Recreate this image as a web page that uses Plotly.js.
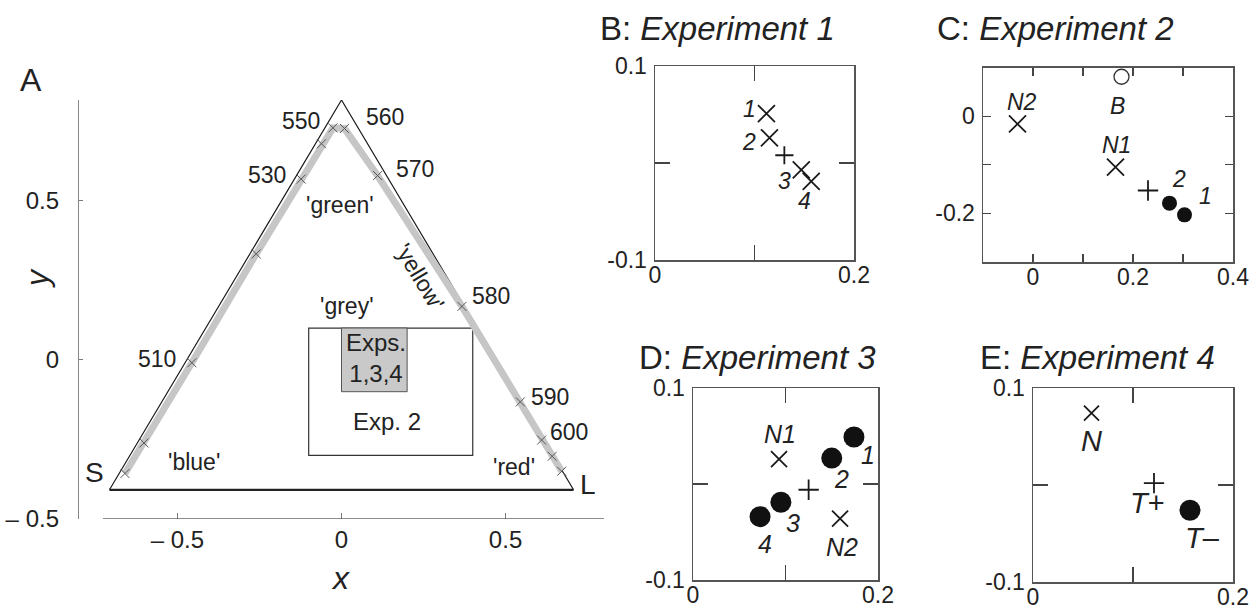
<!DOCTYPE html>
<html>
<head>
<meta charset="utf-8">
<script src="https://cdn.plot.ly/plotly-3.0.1.min.js"></script>
<style>html,body{margin:0;padding:0;background:#fff;}#chart{width:1256px;height:613px;}</style>
</head>
<body>
<div id="chart"></div>
<script>
// ---------- DATA ----------
// Panel A: Maxwell triangle (equilateral, side sqrt 2) vertices S, M, L, back to S
const triX = [-0.7071, 0, 0.7071, -0.7071];
const triY = [-0.4082, 0.8165, -0.4082, -0.4082];
const triLabels = ['S', 'M', 'L'];
// spectral locus samples (nm) and their chromaticity
const wavelengths = [490, 500, 510, 520, 530, 540, 550, 560, 570, 580, 590, 600, 610, 620];
const locusX = [-0.660, -0.602, -0.456, -0.260, -0.123, -0.061, -0.026, 0.009, 0.110, 0.367, 0.545, 0.610, 0.642, 0.671];
const locusY = [-0.357, -0.261, -0.009, 0.333, 0.568, 0.679, 0.729, 0.727, 0.579, 0.168, -0.132, -0.252, -0.303, -0.350];
const labelledWavelengths = [510, 530, 550, 560, 570, 580, 590, 600];
const colourNames = ["'green'", "'yellow'", "'grey'", "'blue'", "'red'"];
// regions explored in the experiments
const exp2RangeX = [-0.1, 0.4];
const exp2RangeY = [-0.3, 0.1];
const exp134RangeX = [0, 0.2];
const exp134RangeY = [-0.1, 0.1];
const axisATicks = [-0.5, 0, 0.5];
const axisATickText = ['\u2013 0.5', '0', '0.5'];

// Panel B: Experiment 1
const b_crossX = [0.112, 0.115, 0.147, 0.157];
const b_crossY = [0.051, 0.026, -0.007, -0.019];
const b_crossLabels = ['1', '2', '3', '4'];
const b_plusX = [0.130];
const b_plusY = [0.008];

// Panel C: Experiment 2
const c_openX = [0.177];
const c_openY = [0.081];
const c_openLabels = ['B'];
const c_crossX = [-0.031, 0.165];
const c_crossY = [-0.016, -0.105];
const c_crossLabels = ['N2', 'N1'];
const c_plusX = [0.230];
const c_plusY = [-0.153];
const c_filledX = [0.303, 0.273];
const c_filledY = [-0.203, -0.179];
const c_filledLabels = ['1', '2'];

// Panel D: Experiment 3
const d_filledX = [0.174, 0.150, 0.095, 0.0725];
const d_filledY = [0.049, 0.027, -0.019, -0.034];
const d_filledLabels = ['1', '2', '3', '4'];
const d_crossX = [0.093, 0.159];
const d_crossY = [0.026, -0.036];
const d_crossLabels = ['N1', 'N2'];
const d_plusX = [0.125];
const d_plusY = [-0.006];

// Panel E: Experiment 4
const e_crossX = [0.0585];
const e_crossY = [0.074];
const e_crossLabels = ['N'];
const e_plusX = [0.121];
const e_plusY = [0.002];
const e_plusLabels = ['T+'];
const e_filledX = [0.157];
const e_filledY = [-0.026];
const e_filledLabels = ['T\u2013'];

// ---------- LAYOUT HELPERS ----------
const W = 1256, H = 613;
const FONT = 'Liberation Sans, Arial, Helvetica, sans-serif';
const TXT = '#222';
function dx(a, b) { return [a / W, b / W]; }
function dy(top, bottom) { return [1 - bottom / H, 1 - top / H]; }

function boxAxis(domain, range, vals, texts, len, anchor, isX) {
  return {
    domain: domain, range: range, anchor: anchor,
    tickmode: 'array', tickvals: vals, ticktext: texts,
    ticks: 'inside', ticklen: len, tickwidth: 1.2, tickcolor: '#444',
    showline: true, mirror: 'allticks', linecolor: '#555', linewidth: 1.5,
    showgrid: false, zeroline: false, fixedrange: true,
    ticklabelstandoff: isX ? -6 : 2,
    tickfont: { family: FONT, size: 23, color: TXT }
  };
}

const traces = [];
// ---- Panel A ----
traces.push({ x: triX.slice(0, 3), y: triY.slice(0, 3), xaxis: 'x', yaxis: 'y', mode: 'lines',
  line: { color: '#1a1a1a', width: 1.2 }, hoverinfo: 'skip', showlegend: false });
traces.push({ x: [triX[2], triX[3]], y: [triY[2], triY[3]], xaxis: 'x', yaxis: 'y', mode: 'lines',
  line: { color: '#222', width: 2.2 }, hoverinfo: 'skip', showlegend: false });
traces.push({ x: locusX, y: locusY, xaxis: 'x', yaxis: 'y', mode: 'lines',
  line: { color: '#c6c6c6', width: 7 }, hoverinfo: 'skip', showlegend: false });
traces.push({ x: locusX, y: locusY, text: wavelengths.map(w => w + ' nm'), xaxis: 'x', yaxis: 'y', mode: 'markers',
  marker: { symbol: 'x-thin', size: 9, line: { color: '#555', width: 1 } }, hoverinfo: 'text', showlegend: false });

function markerTrace(xs, ys, ax, symbol, size) {
  const m = { symbol: symbol, size: size, color: '#111', line: { color: '#1a1a1a', width: 1.8 } };
  if (symbol === 'circle') { m.line = { color: '#111', width: 0 }; }
  if (symbol === 'circle-open') { m.color = '#333'; m.line = { color: '#333', width: 1.3 }; }
  return { x: xs, y: ys, xaxis: 'x' + ax, yaxis: 'y' + ax, mode: 'markers', marker: m,
    hoverinfo: 'x+y', showlegend: false, cliponaxis: false };
}
// ---- Panel B ----
traces.push(markerTrace(b_crossX, b_crossY, 2, 'x-thin', 17));
traces.push(markerTrace(b_plusX, b_plusY, 2, 'cross-thin', 13));
// ---- Panel C ----
traces.push(markerTrace(c_openX, c_openY, 3, 'circle-open', 15));
traces.push(markerTrace(c_crossX, c_crossY, 3, 'x-thin', 17));
traces.push(markerTrace(c_plusX, c_plusY, 3, 'cross-thin', 14.5));
traces.push(markerTrace(c_filledX, c_filledY, 3, 'circle', 15));
// ---- Panel D ----
traces.push(markerTrace(d_filledX, d_filledY, 4, 'circle', 21));
traces.push(markerTrace(d_crossX, d_crossY, 4, 'x-thin', 16));
traces.push(markerTrace(d_plusX, d_plusY, 4, 'cross-thin', 14.5));
// ---- Panel E ----
traces.push(markerTrace(e_crossX, e_crossY, 5, 'x-thin', 15));
traces.push(markerTrace(e_plusX, e_plusY, 5, 'cross-thin', 14.5));
traces.push(markerTrace(e_filledX, e_filledY, 5, 'circle', 21));

// ---------- ANNOTATIONS ----------
const ann = [];
function txt(x, y, text, size, ax, opts) {
  const a = Object.assign({ x: x, y: y, xref: 'x' + (ax || ''), yref: 'y' + (ax || ''), text: text, showarrow: false,
    font: { family: FONT, size: size, color: TXT }, xanchor: 'center', yanchor: 'middle' }, opts || {});
  ann.push(a);
}
function ptxt(px, py, text, size, opts) {
  ann.push(Object.assign({ x: px / W, y: 1 - py / H, xref: 'paper', yref: 'paper', text: text, showarrow: false,
    font: { family: FONT, size: size, color: TXT }, xanchor: 'center', yanchor: 'middle' }, opts || {}));
}
// Panel A labels
const wlLabelPos = { 510: [-0.561, 0.004], 530: [-0.226, 0.581], 550: [-0.123, 0.751], 560: [0.134, 0.762],
  570: [0.225, 0.601], 580: [0.455, 0.202], 590: [0.636, -0.116], 600: [0.694, -0.226] };
labelledWavelengths.forEach(w => txt(wlLabelPos[w][0], wlLabelPos[w][1], String(w), 23, ''));
const namePos = [[-0.006, 0.487, 0], [0.239, 0.259, 59], [0.017, 0.170, 0], [-0.45, -0.320, 0], [0.525, -0.337, 0]];
colourNames.forEach((n, i) => txt(namePos[i][0], namePos[i][1], n, 23, '', { textangle: namePos[i][2] }));
const vertexPos = [[-0.754, -0.353], [0, 0.872], [0.752, -0.391]];
triLabels.forEach((t, i) => txt(vertexPos[i][0], vertexPos[i][1], t, 28, ''));
txt(0.104, 0.007, 'Exps.<br>1,3,4', 24, '');
txt(0.139, -0.193, 'Exp. 2', 24, '');
ptxt(31, 80, 'A', 32);
ptxt(340, 578, '<i>x</i>', 32);
ptxt(37, 278, '<i>y</i>', 32, { textangle: -90 });

// Panel titles
ptxt(598, 28, 'B: <i>Experiment 1</i>', 33, { xanchor: 'left' });
ptxt(935, 28, 'C: <i>Experiment 2</i>', 33, { xanchor: 'left' });
ptxt(637, 357, 'D: <i>Experiment 3</i>', 33, { xanchor: 'left' });
ptxt(978, 357, 'E: <i>Experiment 4</i>', 33, { xanchor: 'left' });

// Panel B labels
const bLabPos = [[0.095, 0.056], [0.094, 0.022], [0.130, -0.019], [0.150, -0.039]];
b_crossLabels.forEach((t, i) => txt(bLabPos[i][0], bLabPos[i][1], '<i>' + t + '</i>', 23, 2));
// Panel C labels
txt(0.168, 0.020, '<i>' + c_openLabels[0] + '</i>', 23, 3);
const cCrossLabPos = [[-0.023, 0.030], [0.167, -0.060]];
c_crossLabels.forEach((t, i) => txt(cCrossLabPos[i][0], cCrossLabPos[i][1], '<i>' + t + '</i>', 23, 3));
const cFillLabPos = [[0.345, -0.164], [0.291, -0.129]];
c_filledLabels.forEach((t, i) => txt(cFillLabPos[i][0], cFillLabPos[i][1], '<i>' + t + '</i>', 23, 3));
// Panel D labels
const dFillLabPos = [[0.189, 0.030], [0.161, 0.005], [0.108, -0.041], [0.078, -0.062]];
d_filledLabels.forEach((t, i) => txt(dFillLabPos[i][0], dFillLabPos[i][1], '<i>' + t + '</i>', 25, 4));
const dCrossLabPos = [[0.094, 0.052], [0.161, -0.066]];
d_crossLabels.forEach((t, i) => txt(dCrossLabPos[i][0], dCrossLabPos[i][1], '<i>' + t + '</i>', 25, 4));
// Panel E labels
txt(0.0585, 0.045, '<i>' + e_crossLabels[0] + '</i>', 29, 5);
txt(0.114, -0.019, '<i>T</i>+', 29, 5);
txt(0.169, -0.055, '<i>T</i>\u2013', 29, 5);

// ---------- SHAPES ----------
const shapes = [
  // x-axis line of panel A (offset from the y-axis)
  { type: 'line', xref: 'x', yref: 'y', x0: -0.727, x1: 0.8, y0: -0.5, y1: -0.5, line: { color: '#666', width: 1.5 } },
  // Exp. 2 region
  { type: 'rect', xref: 'x', yref: 'y', x0: exp2RangeX[0], x1: exp2RangeX[1], y0: exp2RangeY[0], y1: exp2RangeY[1],
    line: { color: '#333', width: 1.2 }, fillcolor: 'rgba(0,0,0,0)', layer: 'below' },
  // Exps 1,3,4 region
  { type: 'rect', xref: 'x', yref: 'y', x0: exp134RangeX[0], x1: exp134RangeX[1], y0: exp134RangeY[0], y1: exp134RangeY[1],
    line: { color: '#555', width: 1 }, fillcolor: '#c9c9c9', layer: 'below' }
];

const layout = {
  width: W, height: H, margin: { l: 0, r: 0, t: 0, b: 0 },
  paper_bgcolor: '#fff', plot_bgcolor: 'rgba(0,0,0,0)', showlegend: false,
  font: { family: FONT, color: TXT },
  xaxis: { domain: dx(79, 604), range: [-0.8, 0.8], anchor: 'y', tickmode: 'array', tickvals: axisATicks, ticktext: axisATickText,
    ticks: 'inside', ticklen: 6, tickcolor: '#777', tickwidth: 1, showline: false, showgrid: false, zeroline: false,
    ticklabelstandoff: 4, tickfont: { family: FONT, size: 24, color: TXT }, fixedrange: true },
  yaxis: { domain: dy(100, 519), range: [-0.5, 0.8165], anchor: 'x', tickmode: 'array', tickvals: axisATicks, ticktext: axisATickText,
    ticks: 'inside', ticklen: 4, tickcolor: '#777', tickwidth: 1, showline: true, linecolor: '#888', linewidth: 1.2,
    showgrid: false, zeroline: false, ticklabelstandoff: 14, tickfont: { family: FONT, size: 24, color: TXT }, fixedrange: true },
  xaxis2: boxAxis(dx(655, 854), [0, 0.2], [0, 0.1, 0.2], ['0', '', '0.2'], 15, 'y2', true),
  yaxis2: boxAxis(dy(66, 260), [-0.1, 0.1], [-0.1, 0, 0.1], ['-0.1', '', '0.1'], 15, 'x2', false),
  xaxis3: boxAxis(dx(983, 1233), [-0.1, 0.4], [-0.1, 0, 0.1, 0.2, 0.3, 0.4], ['', '0', '', '0.2', '', '0.4'], 8, 'y3', true),
  yaxis3: boxAxis(dy(67.5, 262), [-0.3, 0.1], [-0.3, -0.2, -0.1, 0, 0.1], ['', '-0.2', '', '0', ''], 8, 'x3', false),
  xaxis4: boxAxis(dx(693, 878), [0, 0.2], [0, 0.1, 0.2], ['0', '', '0.2'], 15, 'y4', true),
  yaxis4: boxAxis(dy(388, 580), [-0.1, 0.1], [-0.1, 0, 0.1], ['-0.1', '', '0.1'], 15, 'x4', false),
  xaxis5: boxAxis(dx(1033, 1233), [0, 0.2], [0, 0.1, 0.2], ['0', '', '0.2'], 15, 'y5', true),
  yaxis5: boxAxis(dy(388, 582), [-0.1, 0.1], [-0.1, 0, 0.1], ['-0.1', '', '0.1'], 15, 'x5', false),
  annotations: ann,
  shapes: shapes
};

Plotly.newPlot('chart', traces, layout, { displayModeBar: false, staticPlot: true });
</script>
</body>
</html>
